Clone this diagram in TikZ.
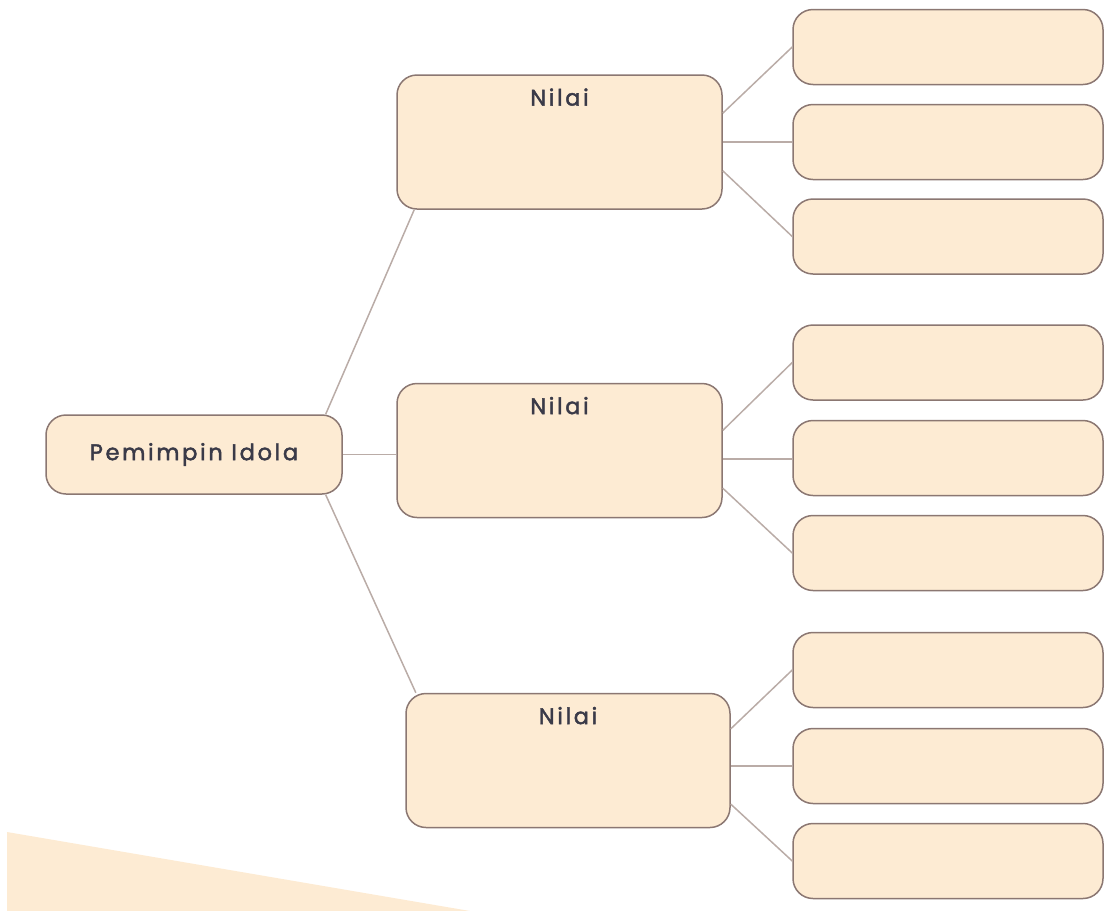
\documentclass[tikz,border=0pt]{standalone}
\usepackage{fontspec}
\setmainfont{Poppins}
\newfontfamily\boxfont{Poppins}[LetterSpace=12, FakeBold=2]
\usepackage{tikz}
\definecolor{CFDEBD3}{HTML}{FDEBD3}
\definecolor{C8B7772}{HTML}{8B7772}
\definecolor{CBAACA7}{HTML}{BAACA7}
\definecolor{C3A3A48}{HTML}{3A3A48}
\tikzset{
  box/.style={shape=rectangle, inner sep=0pt, fill=CFDEBD3, draw=C8B7772, line width=1.5pt, rounded corners=20pt},
  link/.style={draw=CBAACA7, line width=1.5pt},
  txt/.style={font=\boxfont\fontsize{22.5}{25}\selectfont, text=C3A3A48}
}

\begin{document}
\begin{tikzpicture}[x=1pt,y=-1pt]
\useasboundingbox (0,0) rectangle (1104,911);
\fill [CFDEBD3] (7,832) -- (470,911) -- (7,911) -- cycle;

\node (n0) [box, txt, minimum width=296pt, minimum height=79pt, at={(194,454.5)}] {Pemimpin Idola};

\node (n1) [box, minimum width=325pt, minimum height=134pt, at={(559.5,142)}, label={[txt, anchor=north, inner sep=0pt, yshift=-14pt]north:Nilai}] {};
\node (n2) [box, minimum width=325pt, minimum height=134pt, at={(559.5,450.5)}, label={[txt, anchor=north, inner sep=0pt, yshift=-14pt]north:Nilai}] {};
\node (n3) [box, minimum width=324pt, minimum height=134pt, at={(568,760.5)}, label={[txt, anchor=north, inner sep=0pt, yshift=-14pt]north:Nilai}] {};

\node (n4) [box, minimum width=310pt, minimum height=75pt, at={(948,47)}] {};
\node (n5) [box, minimum width=310pt, minimum height=75pt, at={(948,142)}] {};
\node (n6) [box, minimum width=310pt, minimum height=75pt, at={(948,236.5)}] {};
\node (n7) [box, minimum width=310pt, minimum height=75pt, at={(948,362.5)}] {};
\node (n8) [box, minimum width=310pt, minimum height=75pt, at={(948,458)}] {};
\node (n9) [box, minimum width=310pt, minimum height=75pt, at={(948,553)}] {};
\node (n10) [box, minimum width=310pt, minimum height=75pt, at={(948,670)}] {};
\node (n11) [box, minimum width=310pt, minimum height=75pt, at={(948,766)}] {};
\node (n12) [box, minimum width=310pt, minimum height=75pt, at={(948,861)}] {};

% root to the three values
\path [link] (n0.17) -- (n1.205);
\path [link] (n0.east) -- (n0.east -| n2.west);
\path [link] (n0.-17) -- (n3.156);

% values to the empty boxes
\path [link] (n1.10) -- (n4.west);
\path [link] (n1.east) -- (n5.west);
\path [link] (n1.-10) -- (n6.west);

\path [link] (n2.7) -- (n7.west);
\path [link] (n2.-3) -- (n2.-3 -| n8.west);
\path [link] (n2.-13) -- (n9.west);

\path [link] (n3.11) -- (n10.west);
\path [link] (n3.-2) -- (n3.-2 -| n11.west);
\path [link] (n3.-15) -- (n12.west);
\end{tikzpicture}
\end{document}
